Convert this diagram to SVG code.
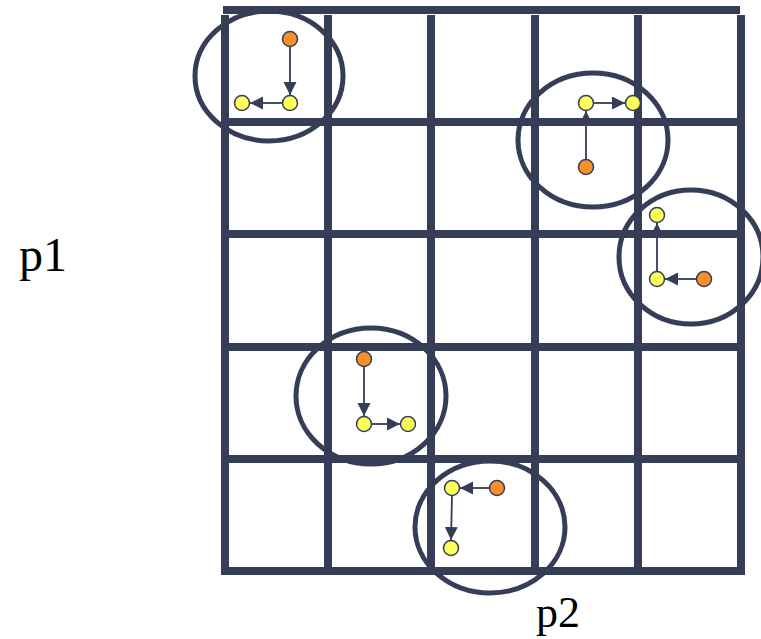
<svg xmlns="http://www.w3.org/2000/svg" width="761" height="639" viewBox="0 0 761 639">
<style>
.grid{stroke:#363d56;stroke-width:8;fill:none}
.ring{stroke:#363d56;stroke-width:5;fill:none}
.edge{stroke:#363d56;stroke-width:1.8;fill:none;marker-end:url(#ah)}
.y{fill:#ffff5c;stroke:#363d56;stroke-width:1.5}
.o{fill:#f7902a;stroke:#363d56;stroke-width:1.5}
</style>
<defs>
<marker id="ah" markerUnits="userSpaceOnUse" markerWidth="14" markerHeight="14" refX="13" refY="6.5" orient="auto">
<path d="M0,0 L13,6.5 L0,13 z" fill="#363d56"/>
</marker>
</defs>
<rect width="761" height="639" fill="#fff"/>
<g id="connectors">
<line class="edge" x1="290" y1="47" x2="290" y2="95"/>
<line class="edge" x1="282" y1="103" x2="250" y2="103"/>
<line class="edge" x1="586" y1="159" x2="586" y2="111"/>
<line class="edge" x1="594" y1="103" x2="625" y2="103"/>
<line class="edge" x1="696" y1="279" x2="665" y2="279"/>
<line class="edge" x1="657" y1="271" x2="657" y2="223"/>
<line class="edge" x1="364" y1="367" x2="364" y2="416"/>
<line class="edge" x1="372" y1="424" x2="400" y2="424"/>
<line class="edge" x1="489" y1="488" x2="460" y2="488"/>
<line class="edge" x1="452" y1="496" x2="451" y2="540"/>
</g>
<g id="grid" class="grid">
<line x1="223" y1="10" x2="740" y2="10"/>
<line x1="221" y1="122" x2="745" y2="122"/>
<line x1="221" y1="234" x2="745" y2="234"/>
<line x1="221" y1="347" x2="745" y2="347"/>
<line x1="221" y1="459" x2="745" y2="459"/>
<line x1="221" y1="571" x2="745" y2="571"/>
<line x1="225" y1="15" x2="225" y2="575"/>
<line x1="328" y1="15" x2="328" y2="575"/>
<line x1="431" y1="15" x2="431" y2="575"/>
<line x1="535" y1="15" x2="535" y2="575"/>
<line x1="638" y1="15" x2="638" y2="575"/>
<line x1="741" y1="15" x2="741" y2="575"/>
</g>
<g id="ring1"><ellipse class="ring" cx="269" cy="76" rx="74" ry="65"/></g>
<g id="ring2"><ellipse class="ring" cx="593" cy="140" rx="75" ry="67"/></g>
<g id="ring3"><ellipse class="ring" cx="691" cy="257" rx="72" ry="67"/></g>
<g id="ring4"><ellipse class="ring" cx="371" cy="396" rx="75" ry="68"/></g>
<g id="ring5"><ellipse class="ring" cx="490" cy="527" rx="75" ry="66"/></g>
<g id="n1o"><circle class="o" cx="290" cy="39" r="7.5"/></g>
<g id="n1a"><circle class="y" cx="290" cy="103" r="7.5"/></g>
<g id="n1b"><circle class="y" cx="242" cy="103" r="7.5"/></g>
<g id="n2o"><circle class="o" cx="586" cy="167" r="7.5"/></g>
<g id="n2a"><circle class="y" cx="586" cy="103" r="7.5"/></g>
<g id="n2b"><circle class="y" cx="633" cy="103" r="7.5"/></g>
<g id="n3o"><circle class="o" cx="704" cy="279" r="7.5"/></g>
<g id="n3a"><circle class="y" cx="657" cy="279" r="7.5"/></g>
<g id="n3b"><circle class="y" cx="657" cy="215" r="7.5"/></g>
<g id="n4o"><circle class="o" cx="364" cy="359" r="7.5"/></g>
<g id="n4a"><circle class="y" cx="364" cy="424" r="7.5"/></g>
<g id="n4b"><circle class="y" cx="408" cy="424" r="7.5"/></g>
<g id="n5o"><circle class="o" cx="497" cy="488" r="7.5"/></g>
<g id="n5a"><circle class="y" cx="452" cy="488" r="7.5"/></g>
<g id="n5b"><circle class="y" cx="451" cy="548" r="7.5"/></g>
<g id="label-p1"><text x="19" y="271" font-family="Liberation Serif, Times New Roman, serif" font-size="48" fill="#000">p1</text></g>
<g id="label-p2"><text x="536" y="627" font-family="Liberation Serif, Times New Roman, serif" font-size="44" fill="#000">p2</text></g>
</svg>
